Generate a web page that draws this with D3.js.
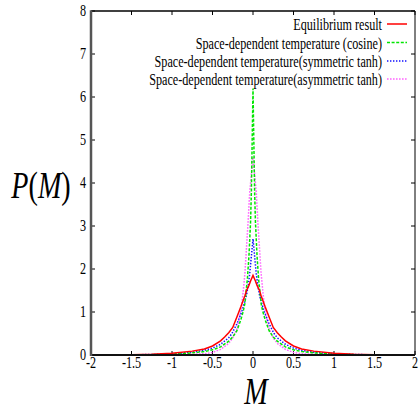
<!DOCTYPE html>
<html><head><meta charset="utf-8">
<script src="https://cdn.jsdelivr.net/npm/d3@7"></script>
<style>html,body{margin:0;padding:0;background:#fff;}svg{display:block;}</style>
</head><body>
<script>
// ---- data ----
const xTicks = [-2, -1.5, -1, -0.5, 0, 0.5, 1, 1.5, 2];
const xTickLabels = ["-2", "-1.5", "-1", "-0.5", "0", "0.5", "1", "1.5", "2"];
const yTicks = [0, 1, 2, 3, 4, 5, 6, 7, 8];
const yTickLabels = ["0", "1", "2", "3", "4", "5", "6", "7", "8"];
const seriesNames = ["Equilibrium result", "Space-dependent temperature (cosine)", "Space-dependent temperature(symmetric tanh)", "Space-dependent temperature(asymmetric tanh)"];

const eqM = [-2, -1.5, -1.25, -1, -0.75, -0.6, -0.5, -0.4, -0.35, -0.3, -0.25, -0.2, -0.15, -0.1, -0.08, -0.05, -0.03, 0, 0.03, 0.05, 0.08, 0.1, 0.15, 0.2, 0.25, 0.3, 0.35, 0.4, 0.5, 0.6, 0.75, 1, 1.25, 1.5, 2];
const eqP = [0.001, 0.006, 0.015, 0.04, 0.09, 0.14, 0.21, 0.33, 0.42, 0.52, 0.64, 0.88, 1.12, 1.38, 1.5, 1.62, 1.72, 1.85, 1.72, 1.62, 1.5, 1.38, 1.12, 0.88, 0.64, 0.52, 0.42, 0.33, 0.21, 0.14, 0.09, 0.04, 0.015, 0.006, 0.001];

const cosM = [-2, -1.5, -1.25, -1, -0.75, -0.6, -0.5, -0.4, -0.3, -0.25, -0.2, -0.15, -0.12, -0.1, -0.09, -0.07, -0.05, -0.04, -0.03, -0.02, -0.01, 0, 0.01, 0.02, 0.03, 0.04, 0.05, 0.07, 0.09, 0.1, 0.12, 0.15, 0.2, 0.25, 0.3, 0.4, 0.5, 0.6, 0.75, 1, 1.25, 1.5, 2];
const cosP = [0.001, 0.003, 0.008, 0.02, 0.05, 0.08, 0.12, 0.19, 0.32, 0.42, 0.56, 0.82, 1.02, 1.2, 1.4, 1.75, 2.3, 2.7, 3.1, 3.8, 5.0, 6.2, 5.0, 3.8, 3.1, 2.7, 2.3, 1.75, 1.4, 1.2, 1.02, 0.82, 0.56, 0.42, 0.32, 0.19, 0.12, 0.08, 0.05, 0.02, 0.008, 0.003, 0.001];

const symM = [-2, -1.5, -1.25, -1, -0.75, -0.6, -0.5, -0.4, -0.3, -0.26, -0.2, -0.14, -0.1, -0.08, -0.06, -0.04, -0.02, 0, 0.02, 0.04, 0.06, 0.08, 0.1, 0.14, 0.2, 0.26, 0.3, 0.4, 0.5, 0.6, 0.75, 1, 1.25, 1.5, 2];
const symP = [0.001, 0.005, 0.012, 0.03, 0.065, 0.11, 0.16, 0.25, 0.4, 0.5, 0.72, 1.0, 1.25, 1.4, 1.6, 1.9, 2.3, 2.7, 2.3, 1.9, 1.6, 1.4, 1.25, 1.0, 0.72, 0.5, 0.4, 0.25, 0.16, 0.11, 0.065, 0.03, 0.012, 0.005, 0.001];

const asymM = [-2, -1.5, -1, -0.75, -0.6, -0.5, -0.4, -0.3, -0.25, -0.2, -0.17, -0.14, -0.12, -0.1, -0.08, -0.06, -0.04, -0.02, 0, 0.02, 0.04, 0.06, 0.08, 0.1, 0.12, 0.14, 0.17, 0.2, 0.25, 0.3, 0.4, 0.5, 0.6, 0.75, 1, 1.5, 2];
const asymP = [0, 0.001, 0.005, 0.015, 0.03, 0.06, 0.13, 0.27, 0.4, 0.6, 0.85, 1.15, 1.5, 1.9, 2.5, 3.1, 3.8, 4.2, 4.6, 4.2, 3.8, 3.1, 2.5, 1.9, 1.5, 1.15, 0.85, 0.6, 0.4, 0.27, 0.13, 0.06, 0.03, 0.015, 0.005, 0.001, 0];

const colors = ["#ff0000", "#00e600", "#1010ff", "#ff66ff"];
const dashes = [null, "3,1.6", "1.4,1.6", "1.6,1.4"];

// ---- drawing ----
const W = 420, H = 412;
const L = 91, R = 415, T = 11, B = 355;
const SX = 0.76;
const FONT = "Liberation Serif";

const svg = d3.select("body").append("svg").attr("width", W).attr("height", H);
const x = d3.scaleLinear().domain([-2, 2]).range([L, R]);
const y = d3.scaleLinear().domain([0, 8]).range([B, T]);

function txt(px, py, s, size, anchor) {
  return svg.append("text")
    .attr("transform", `translate(${px},${py}) scale(${SX},1)`)
    .attr("text-anchor", anchor)
    .attr("font-family", FONT)
    .attr("font-size", size)
    .attr("fill", "#000")
    .text(s);
}

// ticks (inward) on all four sides
const tk = 4;
const tg = svg.append("g").attr("stroke", "#000").attr("stroke-width", 1);
xTicks.forEach(v => {
  tg.append("line").attr("x1", x(v)).attr("x2", x(v)).attr("y1", B).attr("y2", B - tk);
  tg.append("line").attr("x1", x(v)).attr("x2", x(v)).attr("y1", T).attr("y2", T + tk);
});
yTicks.forEach(v => {
  tg.append("line").attr("x1", L).attr("x2", L + tk).attr("y1", y(v)).attr("y2", y(v));
  tg.append("line").attr("x1", R).attr("x2", R - tk).attr("y1", y(v)).attr("y2", y(v));
});

// tick labels
xTicks.forEach((v, i) => txt(x(v), 368, xTickLabels[i], 16, "middle"));
yTicks.forEach((v, i) => txt(86, y(v) + 5, yTickLabels[i], 16, "end"));

// curves
const line = d3.line().x(d => x(d[0])).y(d => y(d[1]));
const sets = [[eqM, eqP], [cosM, cosP], [symM, symP], [asymM, asymP]];
const order = [3, 2, 1, 0];
order.forEach(k => {
  const [ms, ps] = sets[k];
  const pts = ms.map((m, i) => [m, ps[i]]);
  const p = svg.append("path").datum(pts).attr("d", line)
    .attr("fill", "none").attr("stroke", colors[k])
    .attr("stroke-width", 1.5);
  if (dashes[k]) p.attr("stroke-dasharray", dashes[k]);
});

// frame
svg.append("line").attr("x1", L).attr("x2", R).attr("y1", T).attr("y2", T).attr("stroke", "#000").attr("stroke-width", 1.5);
svg.append("line").attr("x1", R).attr("x2", R).attr("y1", T).attr("y2", B).attr("stroke", "#000").attr("stroke-width", 1);
svg.append("line").attr("x1", L).attr("x2", R).attr("y1", B).attr("y2", B).attr("stroke", "#111").attr("stroke-width", 2);
svg.append("line").attr("x1", L).attr("x2", L).attr("y1", T - 0.75).attr("y2", B + 1).attr("stroke", "#555").attr("stroke-width", 2.5);

// legend
const legY = [24, 42.5, 61, 79];
seriesNames.forEach((n, k) => {
  txt(382, legY[k] + 6, n, 16, "end");
  const l = svg.append("line").attr("x1", 387).attr("x2", 407).attr("y1", legY[k]).attr("y2", legY[k])
    .attr("stroke", colors[k]).attr("stroke-width", 1.5);
  if (dashes[k]) l.attr("stroke-dasharray", dashes[k]);
});

// axis titles
const mt = txt(256, 404, "", 37, "middle");
mt.append("tspan").attr("font-style", "italic").text("M");
const pt = txt(41, 198, "", 37, "middle");
pt.append("tspan").attr("font-style", "italic").text("P");
pt.append("tspan").text("(");
pt.append("tspan").attr("font-style", "italic").text("M");
pt.append("tspan").text(")");
</script>
</body></html>
